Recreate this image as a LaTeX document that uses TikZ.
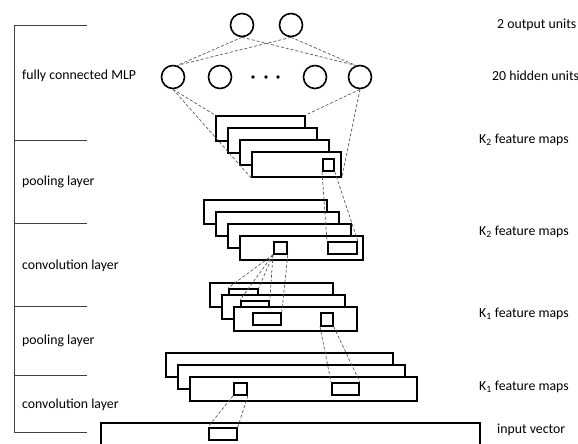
\documentclass[tikz,border=0pt]{standalone}
\usepackage{fontspec}
\setmainfont{Carlito}
\usepackage{tikz}

\begin{document}
\begin{tikzpicture}[
  x=1pt, y=-1pt,
  lbl/.style={font=\fontsize{13.8}{16}\selectfont, anchor=west, inner sep=0pt},
  unit/.style={circle, draw, line width=1.6pt, minimum size=23pt, inner sep=0pt},
  fmap/.style={draw, fill=white, line width=1.8pt, anchor=north west, inner sep=0pt},
  win/.style={draw, line width=1.8pt, anchor=north west, inner sep=0pt},
  link/.style={densely dashed, draw=black!65, line width=0.7pt},
  brace/.style={draw=black!75, line width=0.7pt},
]
\useasboundingbox (0,0) rectangle (578,444);
\clip (0,0) rectangle (578,444);

% Layer bracket on the left.
\draw[brace] (14,25) -- (14,432);
\draw[brace] (14,25) -- (87,25);
\draw[brace] (14,140) -- (87,140);
\draw[brace] (14,223) -- (87,223);
\draw[brace] (14,306) -- (87,306);
\draw[brace] (14,375) -- (87,375);
\draw[brace] (14,432) -- (87,432);

\node[lbl] (mlp) at (22,76) {fully connected MLP};
\node[lbl] (pool2) at (22,182) {pooling layer};
\node[lbl] (conv2) at (22,266) {convolution layer};
\node[lbl] (pool1) at (22,341) {pooling layer};
\node[lbl] (conv1) at (22,405) {convolution layer};

% Right-hand captions.
\node[lbl] (outtxt) at (497,25) {2 output units};
\node[lbl] (hidtxt) at (492,76) {20 hidden units};
\node[lbl] (ptwotxt) at (479,140) {K\textsubscript{2} feature maps};
\node[lbl] (ctwotxt) at (479,232) {K\textsubscript{2} feature maps};
\node[lbl] (ponetxt) at (479,314) {K\textsubscript{1} feature maps};
\node[lbl] (conetxt) at (479,387) {K\textsubscript{1} feature maps};
\node[lbl] (intxt) at (497,430) {input vector};

% MLP units.
\node[unit] (out1) at (242,25) {};
\node[unit] (out2) at (291,25) {};
\node[unit] (hid1) at (173,77) {};
\node[unit] (hid2) at (220,77) {};
\node[unit] (hid3) at (315,77) {};
\node[unit] (hid4) at (360,77) {};
\fill (253,77) circle (1.8) (266,77) circle (1.8) (278,77) circle (1.8);

% Pooled K2 maps.
\node[fmap, minimum width=89pt, minimum height=25pt] (ptwoA) at (215,115) {};
\node[fmap, minimum width=89pt, minimum height=25pt] (ptwoB) at (227,127) {};
\node[fmap, minimum width=89pt, minimum height=25pt] (ptwoC) at (239,139) {};
\node[fmap, minimum width=89pt, minimum height=25pt] (ptwoD) at (251,151) {};
\node[win, minimum width=11pt, minimum height=12pt] (ptwoSq) at (322,158) {};

% Convolved K2 maps.
\node[fmap, minimum width=123pt, minimum height=24pt] (ctwoA) at (203,199) {};
\node[fmap, minimum width=123pt, minimum height=24pt] (ctwoB) at (215,211) {};
\node[fmap, minimum width=123pt, minimum height=24pt] (ctwoC) at (227,223) {};
\node[fmap, minimum width=123pt, minimum height=24pt] (ctwoD) at (239,235) {};
\node[win, minimum width=13pt, minimum height=12pt] (ctwoSq) at (273,241) {};
\node[win, minimum width=29pt, minimum height=12pt] (ctwoWin) at (327,241) {};

% Pooled K1 maps.
\node[fmap, minimum width=123pt, minimum height=24pt] (poneA) at (209,282) {};
\node[win, minimum width=29pt, minimum height=12pt] (poneWinA) at (228,288) {};
\node[fmap, minimum width=123pt, minimum height=24pt] (poneB) at (221,294) {};
\node[win, minimum width=28pt, minimum height=12pt] (poneWinB) at (240,300) {};
\node[fmap, minimum width=123pt, minimum height=24pt] (poneC) at (233,306) {};
\node[win, minimum width=28pt, minimum height=12pt] (poneWinC) at (252,312) {};
\node[win, minimum width=12pt, minimum height=13pt] (poneSq) at (320,312) {};

% Convolved K1 maps.
\node[fmap, minimum width=227pt, minimum height=24pt] (coneA) at (165,352) {};
\node[fmap, minimum width=227pt, minimum height=24pt] (coneB) at (177,364) {};
\node[fmap, minimum width=227pt, minimum height=24pt] (coneC) at (189,376) {};
\node[win, minimum width=13pt, minimum height=12pt] (coneSq) at (233,382) {};
\node[win, minimum width=27pt, minimum height=12pt] (coneWin) at (331,382) {};

% Input vector.
\node[fmap, minimum width=379pt, minimum height=40pt] (input) at (100,422) {};
\node[win, minimum width=28pt, minimum height=12pt] (inWin) at (208,427) {};

% Receptive field links.
\draw[link] (out1.south) -- (hid1.70);
\draw[link] (out1.south) -- (hid4.110);
\draw[link] (out2.south) -- (hid1.70);
\draw[link] (out2.south) -- (hid4.110);
\draw[link] (hid1.south) -- (ptwoA.north west);
\draw[link] (hid1.south) -- (ptwoD.south west);
\draw[link] (hid4.south) -- (ptwoA.north east);
\draw[link] (hid4.south) -- (ptwoD.south east);
\draw[link] (ptwoSq.south west) -- (ctwoWin.north west);
\draw[link] (ptwoSq.south east) -- (ctwoWin.north east);
\draw[link] (ctwoSq.south west) -- (poneWinA.north west);
\draw[link] (ctwoSq.south west) -- (poneWinA.north east);
\draw[link] (ctwoSq.south west) -- (poneWinB.north west);
\draw[link] (ctwoSq.south west) -- (poneWinB.north east);
\draw[link] (ctwoSq.south east) -- (poneWinC.north east);
\draw[link] (poneSq.south west) -- (coneWin.north west);
\draw[link] (poneSq.south east) -- (coneWin.north east);
\draw[link] (coneSq.south west) -- (inWin.north west);
\draw[link] (coneSq.south east) -- (inWin.north east);

\end{tikzpicture}
\end{document}
